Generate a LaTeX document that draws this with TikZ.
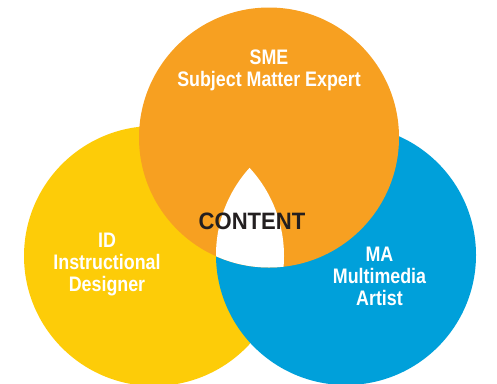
\documentclass[tikz,border=0pt]{standalone}
\usepackage{xcolor}
\usepackage{fontspec}
\setmainfont{Liberation Sans}
\newfontfamily\condfont[FakeStretch=0.85]{Liberation Sans}
\newfontfamily\contentfont[FakeStretch=0.93]{Liberation Sans}
\usepackage{tikz}
\definecolor{smeorange}{RGB}{247,160,33}
\definecolor{idyellow}{RGB}{253,204,8}
\definecolor{mablue}{RGB}{0,160,218}
\definecolor{contentblack}{RGB}{35,31,32}
\tikzstyle{rolecircle} = [draw=none]
\tikzstyle{roletext} = [inner sep=0pt, text=white, align=center, font=\condfont\bfseries\fontsize{21}{22}\selectfont]
\tikzstyle{centertext} = [inner sep=0pt, text=contentblack, font=\contentfont\bfseries\fontsize{23.7}{24}\selectfont]

\begin{document}
\begin{tikzpicture}[x=1pt, y=-1pt]

    \useasboundingbox (0,0) rectangle (497,383);
    \clip (0,0) rectangle (497,383);

    % Centres
    \coordinate (sme) at (269,137.5);
    \coordinate (id) at (154,256);
    \coordinate (ma) at (346,255);

    % Circles
    \fill [rolecircle, idyellow] (id) circle (130pt);
    \fill [rolecircle, mablue] (ma) circle (130pt);
    \fill [rolecircle, smeorange] (sme) circle (130pt);

    % Overlap of all three
    \begin{scope}
        \clip (sme) circle (130pt);
        \clip (id) circle (130pt);
        \fill [white] (ma) circle (130pt);
    \end{scope}

    % Labels
    \node (smetext) [roletext] at (269,70.5) {SME\\Subject Matter Expert};
    \node (idtext) [roletext] at (107,264.5) {ID\\Instructional\\Designer};
    \node (matext) [roletext] at (379.5,276) {MA\\Multimedia\\Artist};
    \node (content) [centertext] at (252,221.5) {CONTENT};

\end{tikzpicture}
\end{document}
